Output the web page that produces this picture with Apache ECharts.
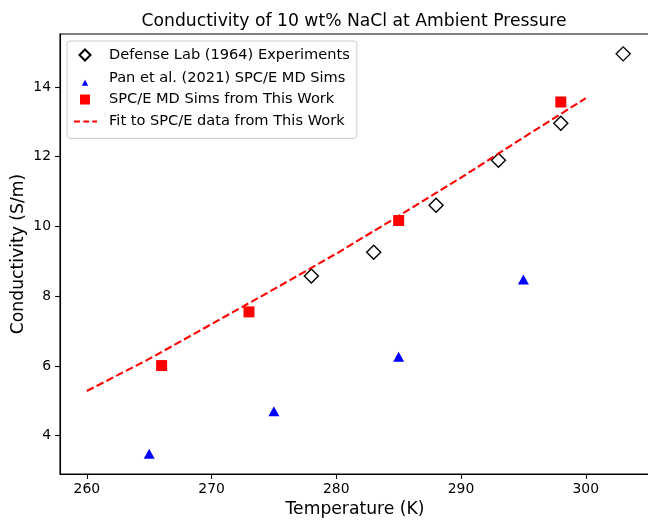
<!DOCTYPE html>
<html>
<head>
<meta charset="utf-8">
<script src="https://cdn.jsdelivr.net/npm/echarts@6/dist/echarts.min.js"></script>
<style>
  html, body { margin: 0; padding: 0; background: #fff; }
  #chart { width: 648px; height: 520px; }
</style>
</head>
<body>
<div id="chart"></div>
<script>
// Defense Lab (1964) experiments
var labT = [278, 283, 288, 293, 298, 303];
var labS = [8.58, 9.26, 10.61, 11.90, 12.96, 14.95];
// Pan et al. (2021) SPC/E MD sims
var panT = [265, 275, 285, 295];
var panS = [3.48, 4.70, 6.26, 8.48];
// SPC/E MD sims from this work
var workT = [266, 273, 285, 298];
var workS = [6.01, 7.55, 10.17, 13.57];
// fit line
var fitT = [260, 265, 270, 275, 280, 285, 290, 295, 300];
var fitS = [5.28, 6.2, 7.2, 8.2, 9.22, 10.3, 11.4, 12.55, 13.68];

var xTicks = [260, 270, 280, 290, 300];
var yTicks = [4, 6, 8, 10, 12, 14];

function pairs(xs, ys) {
  return xs.map(function (x, i) { return [x, ys[i]]; });
}

// legend icons drawn in a 24x16 box (tiny corner segments fix the box size)
var box = 'M0,0L0.01,0.01 M24,16L23.99,15.99 ';
var iconDiamond = 'path://' + box + 'M11,2.5L16.5,8L11,13.5L5.5,8Z';
var iconTriangle = 'path://' + box + 'M11,10L14.2,16L7.8,16Z';
var iconSquare = 'path://' + box + 'M6,3h10v10h-10Z';
var iconDash = 'path://' + box + 'M0,7h6v2h-6Z M9.3,7h5.7v2h-5.7Z M18.3,7h4.7v2h-4.7Z';

var font = 'DejaVu Sans';
var chart = echarts.init(document.getElementById('chart'), null, { renderer: 'canvas' });

var option = {
  backgroundColor: '#fff',
  animation: false,
  title: {
    text: 'Conductivity of 10 wt% NaCl at Ambient Pressure',
    left: 349,
    top: 8,
    textAlign: 'center',
    textStyle: { fontFamily: font, fontSize: 17.2, fontWeight: 'normal', color: '#000' }
  },
  grid: {
    left: 60, right: -2, top: 34, bottom: 46,
    outerBoundsMode: 'none',
    containLabel: false,
    show: true, borderColor: '#000', borderWidth: 1.1, backgroundColor: 'transparent'
  },
  legend: {
    orient: 'vertical',
    left: 67,
    top: 41,
    padding: [5, 7, 9, 6],
    itemGap: 5.8,
    itemWidth: 24,
    itemHeight: 16,
    backgroundColor: 'rgba(255,255,255,0.8)',
    borderColor: '#cccccc',
    borderWidth: 1,
    borderRadius: 3,
    textStyle: { fontFamily: font, fontSize: 14.6, color: '#000', lineHeight: 16, padding: [0, 0, 0, 6] },
    data: [
      { name: 'Defense Lab (1964) Experiments', icon: iconDiamond },
      { name: 'Pan et al. (2021) SPC/E MD Sims', icon: iconTriangle },
      { name: 'SPC/E MD Sims from This Work', icon: iconSquare },
      { name: 'Fit to SPC/E data from This Work', icon: iconDash }
    ]
  },
  xAxis: {
    type: 'value',
    min: 257.85,
    max: 305.15,
    name: 'Temperature (K)',
    nameLocation: 'middle',
    nameGap: 27,
    nameMoveOverlap: false,
    nameTextStyle: { fontFamily: font, fontSize: 17.2, color: '#000', verticalAlign: 'top' },
    splitLine: { show: false },
    axisLine: { show: true, lineStyle: { color: '#000', width: 1.1 } },
    axisTick: { show: true, length: 4.9, lineStyle: { color: '#000', width: 1.1 }, customValues: xTicks },
    axisLabel: { fontFamily: font, fontSize: 13.9, color: '#000', margin: 8, customValues: xTicks }
  },
  yAxis: {
    type: 'value',
    min: 2.9,
    max: 15.52,
    name: 'Conductivity (S/m)',
    nameLocation: 'middle',
    nameGap: 33,
    nameMoveOverlap: false,
    nameTextStyle: { fontFamily: font, fontSize: 17.2, color: '#000' },
    splitLine: { show: false },
    axisLine: { show: true, lineStyle: { color: '#000', width: 1.1 } },
    axisTick: { show: true, length: 4.9, lineStyle: { color: '#000', width: 1.1 }, customValues: yTicks },
    axisLabel: { fontFamily: font, fontSize: 13.9, color: '#000', margin: 9, customValues: yTicks }
  },
  series: [
    {
      name: 'Defense Lab (1964) Experiments',
      type: 'scatter',
      symbol: 'diamond',
      symbolSize: 14,
      itemStyle: { color: '#fff', borderColor: '#000', borderWidth: 1.4, opacity: 1 },
      data: pairs(labT, labS),
      z: 3
    },
    {
      name: 'Pan et al. (2021) SPC/E MD Sims',
      type: 'scatter',
      symbol: 'triangle',
      symbolSize: [11, 10],
      itemStyle: { color: '#0000ff', opacity: 1 },
      data: pairs(panT, panS),
      z: 3
    },
    {
      name: 'SPC/E MD Sims from This Work',
      type: 'scatter',
      symbol: 'rect',
      symbolSize: 11,
      itemStyle: { color: '#ff0000', opacity: 1 },
      data: pairs(workT, workS),
      z: 4
    },
    {
      name: 'Fit to SPC/E data from This Work',
      type: 'line',
      symbol: 'none',
      showSymbol: false,
      smooth: false,
      lineStyle: { color: '#ff0000', width: 2.08, type: [7.7, 3.3] },
      itemStyle: { color: '#ff0000' },
      data: pairs(fitT, fitS),
      z: 5
    }
  ]
};

chart.setOption(option);
</script>
</body>
</html>
